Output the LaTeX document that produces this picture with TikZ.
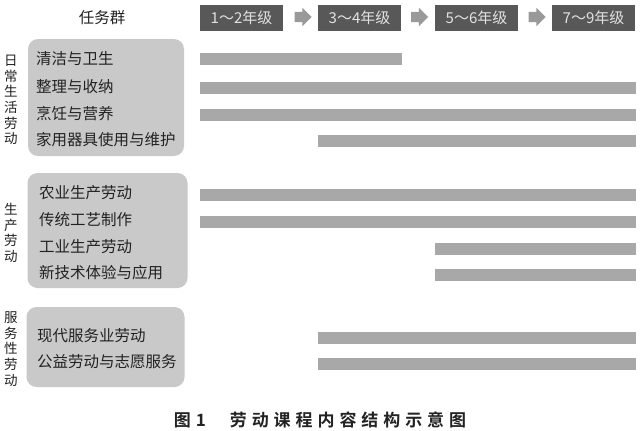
\documentclass[tikz,border=0pt]{standalone}
\usepackage{fontspec}
\setmainfont{Noto Sans CJK SC}[BoldFont={* Bold}]
\usetikzlibrary{shapes.arrows}
\definecolor{gradefill}{HTML}{585858}
\definecolor{gradetext}{HTML}{E2E2E2}
\definecolor{arrowfill}{HTML}{999999}
\definecolor{groupfill}{HTML}{C9C9C9}
\definecolor{barfill}{HTML}{A8A8A8}
\definecolor{inktext}{HTML}{222222}
\tikzset{
  gradebox/.style={draw=none, fill=gradefill, text=gradetext, minimum width=83pt, minimum height=26pt, inner sep=0pt, font=\fontsize{15}{15}\selectfont},
  steparrow/.style={single arrow, draw=none, fill=arrowfill, minimum height=17pt, inner xsep=0pt, inner ysep=5pt, single arrow head extend=4pt, single arrow head indent=0pt, text width=0pt},
  groupbox/.style={draw=none, fill=groupfill, rounded corners=10pt, inner sep=0pt},
  itemtext/.style={anchor=west, inner sep=0pt, text=inktext, font=\fontsize{15.5}{15.5}\selectfont},
  vlabel/.style={align=center, inner sep=0pt, text=inktext, font=\fontsize{13.5}{15.6}\selectfont},
  barbox/.style={draw=none, fill=barfill, minimum height=12pt, inner sep=0pt},
}
\begin{document}
\begin{tikzpicture}[x=1pt,y=-1pt]
\useasboundingbox (0,0) rectangle (640,431);
\fill[white] (0,0) rectangle (640,431);

% header
\node[inner sep=0pt, text=inktext, font=\fontsize{15.5}{15.5}\selectfont] (hdr) at (102,18) {任务群};
\node[gradebox] (g1) at (241.5,18) {1～2年级};
\node[gradebox] (g2) at (359.5,18) {3～4年级};
\node[gradebox] (g3) at (476.5,18) {5～6年级};
\node[gradebox] (g4) at (593.5,18) {7～9年级};
\node[steparrow] (a1) at (300.5,17) {};
\node[steparrow] (a2) at (417,17) {};
\node[steparrow] (a3) at (534.5,17) {};

% group 1
\node[groupbox, minimum width=156pt, minimum height=117pt] (box1) at (106,97.5) {};
\node[vlabel] (lab1) at (11,100) {日\\常\\生\\活\\劳\\动};
\node[itemtext] (t11) at (36,59) {清洁与卫生};
\node[itemtext] (t12) at (36,87) {整理与收纳};
\node[itemtext] (t13) at (36,114) {烹饪与营养};
\node[itemtext] (t14) at (36,140) {家用器具使用与维护};
\node[barbox, minimum width=202pt] (b11) at (301,59) {};
\node[barbox, minimum width=436pt] (b12) at (418,87.5) {};
\node[barbox, minimum width=436pt] (b13) at (418,115) {};
\node[barbox, minimum width=318pt] (b14) at (477,141) {};

% group 2
\node[groupbox, minimum width=160pt, minimum height=115pt] (box2) at (107.5,230.5) {};
\node[vlabel] (lab2) at (11,233) {生\\产\\劳\\动};
\node[itemtext] (t21) at (39,193) {农业生产劳动};
\node[itemtext] (t22) at (39,220) {传统工艺制作};
\node[itemtext] (t23) at (39,247) {工业生产劳动};
\node[itemtext] (t24) at (39,273) {新技术体验与应用};
\node[barbox, minimum width=436pt] (b21) at (418,194.5) {};
\node[barbox, minimum width=436pt] (b22) at (418,221.5) {};
\node[barbox, minimum width=201pt] (b23) at (535.5,248.5) {};
\node[barbox, minimum width=201pt] (b24) at (535.5,275) {};

% group 3
\node[groupbox, minimum width=158pt, minimum height=80pt] (box3) at (105.5,347) {};
\node[vlabel] (lab3) at (11,349) {服\\务\\性\\劳\\动};
\node[itemtext] (t31) at (37,336) {现代服务业劳动};
\node[itemtext] (t32) at (37,362) {公益劳动与志愿服务};
\node[barbox, minimum width=318pt] (b31) at (477,337.5) {};
\node[barbox, minimum width=318pt] (b32) at (477,363.5) {};

% caption
\node[inner sep=0pt, text=inktext, font=\fontsize{17}{17}\selectfont\bfseries\addfontfeature{LetterSpace=29}] (cap) at (320,420) {图\hspace{5pt}1\hspace{24pt}劳动课程内容结构示意图};
\end{tikzpicture}
\end{document}
